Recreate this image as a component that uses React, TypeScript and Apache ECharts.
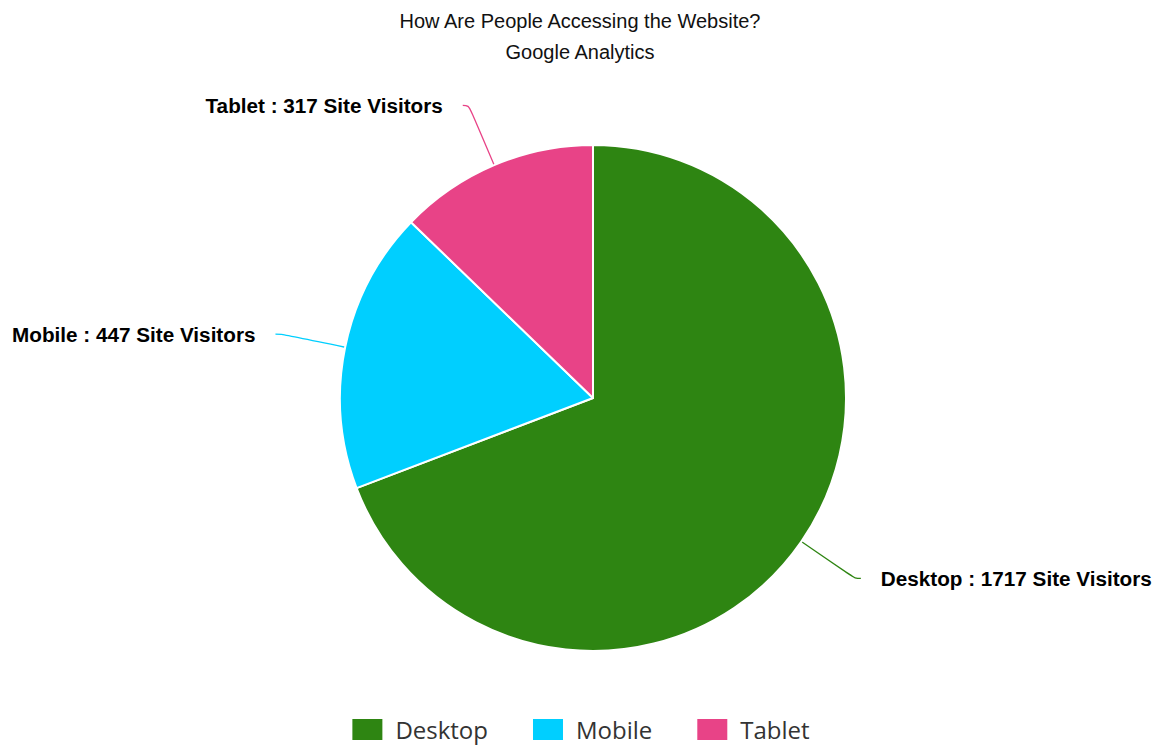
import React, { useEffect, useRef } from "react";
import * as echarts from "echarts";

const titleLines = ["How Are People Accessing the Website?", "Google Analytics"];
const categories = ["Desktop", "Mobile", "Tablet"];
const visitors = [1717, 447, 317];
const colors = ["#2e8512", "#00cfff", "#e84387"];

export default function App() {
  const ref = useRef<HTMLDivElement>(null);
  useEffect(() => {
    document.body.style.margin = "0";
    const chart = echarts.init(ref.current!, null, { renderer: "svg" });
    chart.setOption({
      animation: false,
      backgroundColor: "#ffffff",
      title: {
        text: titleLines.join("\n"),
        left: "center",
        top: 0,
        textStyle: {
          fontFamily: "Liberation Sans, Arial, sans-serif",
          fontSize: 20,
          fontWeight: "normal",
          color: "#111",
          lineHeight: 31,
        },
      },
      legend: {
        data: categories,
        bottom: 2,
        left: "center",
        itemWidth: 32,
        itemHeight: 23,
        itemGap: 43,
        icon: "rect",
        textStyle: {
          fontFamily: "Open Sans, sans-serif",
          fontSize: 24,
          color: "#333",
          padding: [0, 0, 0, 7],
        },
      },
      series: [
        {
          type: "pie",
          center: [593, 398],
          radius: 253,
          startAngle: 90,
          clockwise: true,
          data: categories.map((c, i) => ({
            name: c,
            value: visitors[i],
            itemStyle: { color: colors[i] },
          })),
          itemStyle: { borderColor: "#ffffff", borderWidth: 2 },
          label: {
            show: true,
            formatter: "{b} : {c} Site Visitors",
            fontFamily: "Liberation Sans, Arial, sans-serif",
            fontSize: 20.7,
            fontWeight: "bold",
            color: "#000",
            distanceToLabelLine: 20,
            padding: [5, 0, 0, 0],
            overflow: "none",
            edgeDistance: 0,
          },
          labelLine: {
            show: true,
            length: 65,
            length2: 6,
            smooth: 0.4,
            lineStyle: { width: 1.3 },
          },
          emphasis: { disabled: true },
        },
      ],
    });
    return () => chart.dispose();
  }, []);
  return <div ref={ref} style={{ width: 1160, height: 749 }} />;
}
